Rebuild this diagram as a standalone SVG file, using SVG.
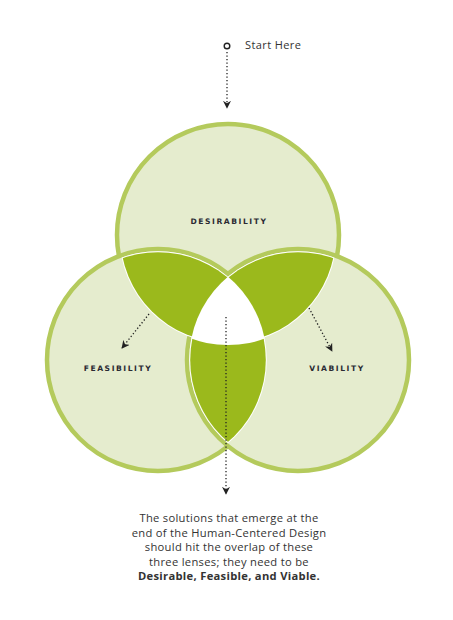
<svg xmlns="http://www.w3.org/2000/svg" width="453" height="620" viewBox="0 0 453 620">
<style>
.c{fill:#e5ecce;stroke:#b4ca5c;stroke-width:4.5}
.lens{fill:#9bb91c}
.w{fill:#ffffff}
.lbl{font-family:"DejaVu Sans","Liberation Sans",sans-serif;font-weight:bold;font-size:7.6px;letter-spacing:1.55px;fill:#2a2a33;text-anchor:middle}
.txt{font-family:"Open Sans","Liberation Sans",sans-serif;font-size:11.2px;letter-spacing:0.3px;fill:#333;text-anchor:middle}
.dot{fill:none;stroke:#222;stroke-width:1.3;stroke-dasharray:1.3 2.2}
</style>
<defs>
<clipPath id="cT"><circle cx="228" cy="235" r="107.8"/></clipPath>
<clipPath id="cL"><circle cx="158" cy="360" r="107.8"/></clipPath>
<clipPath id="cR"><circle cx="298" cy="360" r="107.8"/></clipPath>
<clipPath id="wT"><circle cx="228" cy="235" r="108.8"/></clipPath>
<clipPath id="wL"><circle cx="158" cy="360" r="108.8"/></clipPath>
<clipPath id="wR"><circle cx="298" cy="360" r="108.8"/></clipPath>
<marker id="ah" viewBox="0 0 10 10" refX="9" refY="5" markerWidth="8" markerHeight="8" orient="auto" markerUnits="userSpaceOnUse">
<path d="M0,0 L10,5 L0,10 L3,5 Z" fill="#222"/>
</marker>
</defs>
<g id="desirability">
<circle class="c" cx="228" cy="235" r="111"/>
</g>
<g id="feasibility">
<circle class="c" cx="158" cy="360" r="111"/>
</g>
<g id="viability">
<circle class="c" cx="298" cy="360" r="111"/>
</g>
<g id="overlaps">
<g clip-path="url(#wL)"><circle class="w" cx="228" cy="235" r="108.8"/></g>
<g clip-path="url(#wR)"><circle class="w" cx="228" cy="235" r="108.8"/></g>
<g clip-path="url(#wR)"><circle class="w" cx="158" cy="360" r="108.8"/></g>
<g clip-path="url(#cL)"><circle class="lens" cx="228" cy="235" r="107.8"/></g>
<g clip-path="url(#cR)"><circle class="lens" cx="228" cy="235" r="107.8"/></g>
<g clip-path="url(#cR)"><circle class="lens" cx="158" cy="360" r="107.8"/></g>
<g clip-path="url(#wR)"><g clip-path="url(#wL)"><circle class="w" cx="228" cy="235" r="110"/></g></g>
</g>
<g id="labels">
<text class="lbl" x="229" y="224">DESIRABILITY</text>
<text class="lbl" x="118" y="371">FEASIBILITY</text>
<text class="lbl" x="337" y="371">VIABILITY</text>
</g>
<g id="start">
<circle cx="227" cy="46" r="2.8" fill="#fff" stroke="#222" stroke-width="1.4"/>
<text x="245" y="49" font-family="Open Sans, Liberation Sans, sans-serif" font-size="11" letter-spacing="0.4" fill="#333">Start Here</text>
</g>
<g id="connectors">
<line class="dot" x1="227" y1="52" x2="227" y2="108" marker-end="url(#ah)"/>
<line class="dot" x1="149" y1="314" x2="122" y2="348" marker-end="url(#ah)"/>
<line class="dot" x1="309" y1="308" x2="332" y2="351" marker-end="url(#ah)"/>
<line class="dot" x1="226" y1="317" x2="226" y2="494" marker-end="url(#ah)"/>
</g>
<g id="caption">
<text class="txt" x="229" y="522">The solutions that emerge at the</text>
<text class="txt" x="229" y="536.5">end of the Human-Centered Design</text>
<text class="txt" x="229" y="551">should hit the overlap of these</text>
<text class="txt" x="229" y="565.5">three lenses; they need to be</text>
<text class="txt" x="229" y="580" font-weight="bold" fill="#222">Desirable, Feasible, and Viable.</text>
</g>
</svg>
